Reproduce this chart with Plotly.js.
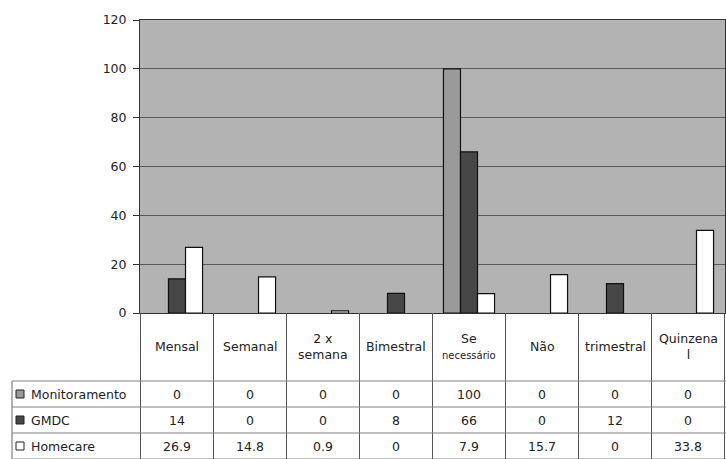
<!DOCTYPE html>
<html>
<head>
<meta charset="utf-8">
<script src="https://cdn.plot.ly/plotly-3.0.1.min.js"></script>
<style>
html,body{margin:0;padding:0;background:#fff;}
#chart{width:726px;height:459px;}
</style>
</head>
<body>
<div id="chart"></div>
<script>
// ---- data ----
const categories = ['Mensal','Semanal','2 x semana','Bimestral','Se necessário','Não','trimestral','Quinzenal'];
const headerLabels = ['Mensal','Semanal','2 x<br>semana','Bimestral','Se<br><span style="font-size:10px">necessário</span>','Não','trimestral','Quinzena<br>l'];
const seriesNames = ['Monitoramento','GMDC','Homecare'];
const monitoramento = [0,0,0,0,100,0,0,0];
const gmdc = [14,0,0,8,66,0,12,0];
const homecare = [26.9,14.8,0.9,0,7.9,15.7,0,33.8];
const yTicks = [0,20,40,60,80,100,120];

// ---- styles ----
const W = 726, H = 459;
const colors = ['#9a9a9a','#474747','#ffffff'];
const font = 'DejaVu Sans, Arial, sans-serif';
const px = x => x / W;
const py = y => 1 - y / H;

const seriesValues = [monitoramento, gmdc, homecare];

const traces = seriesValues.map((vals, s) => ({
  type: 'bar',
  name: seriesNames[s],
  x: categories,
  y: vals.map(v => (v === 0 ? null : v)),
  marker: {color: colors[s], line: {color: '#111', width: 1.2}},
  hoverinfo: 'skip'
}));

// table geometry (pixels)
const plotLeft = 140, plotRight = 725, plotTop = 20, plotBottom = 313;
const tableLeft = 12, headerBottom = 381, rowH = 26;

const shapes = [];
const annotations = [];
const n = categories.length;

// vertical lines of the table (category boundaries)
for (let i = 0; i <= n; i++) {
  shapes.push({type:'line', xref:'x', yref:'paper', x0:i-0.5, x1:i-0.5,
    y0: py(plotBottom), y1: py(headerBottom + rowH*3 + 2),
    line:{color:'#555', width:1}});
}
// left border of legend column
shapes.push({type:'line', xref:'paper', yref:'paper', x0:px(tableLeft), x1:px(tableLeft),
  y0: py(headerBottom), y1: py(headerBottom + rowH*3 + 2), line:{color:'#666', width:1}});
// horizontal row lines
for (let r = 0; r <= 3; r++) {
  const yy = headerBottom + rowH*r;
  shapes.push({type:'line', xref:'paper', yref:'paper', x0:px(tableLeft), x1:1,
    y0: py(yy), y1: py(yy), line:{color:'#808080', width:1}});
}

// header labels
categories.forEach((c, i) => {
  annotations.push({xref:'x', yref:'paper', x:c, y:py((plotBottom+headerBottom)/2 - 1),
    text: headerLabels[i], showarrow:false, xanchor:'center', yanchor:'middle',
    font:{family:font, size:12.5, color:'#222'}});
});

// rows: legend key + values
seriesNames.forEach((name, s) => {
  const yc = headerBottom + rowH*s + rowH/2;
  shapes.push({type:'rect', xref:'paper', yref:'paper',
    x0:px(16), x1:px(24), y0:py(yc+4), y1:py(yc-4),
    fillcolor: colors[s], line:{color:'#222', width:1}});
  annotations.push({xref:'paper', yref:'paper', x:px(29), y:py(yc),
    text:name, showarrow:false, xanchor:'left', yanchor:'middle',
    font:{family:font, size:12.5, color:'#222'}});
  seriesValues[s].forEach((v, i) => {
    annotations.push({xref:'x', yref:'paper', x:categories[i], y:py(yc),
      text:String(v), showarrow:false, xanchor:'center', yanchor:'middle',
      font:{family:font, size:12.5, color:'#222'}});
  });
});

const layout = {
  width: W, height: H,
  margin: {l:0, r:0, t:0, b:0, pad:0},
  paper_bgcolor: '#ffffff',
  plot_bgcolor: '#b3b3b3',
  showlegend: false,
  barmode: 'group',
  bargap: 0.3,
  bargroupgap: 0,
  xaxis: {
    domain: [px(plotLeft), px(plotRight)],
    type: 'category',
    categoryorder: 'array',
    categoryarray: categories,
    showticklabels: false,
    ticks: '',
    showgrid: false,
    showline: true, linecolor: '#333', linewidth: 1,
    mirror: true,
    zeroline: false,
    fixedrange: true
  },
  yaxis: {
    domain: [py(plotBottom), py(plotTop)],
    range: [0, 120],
    tickvals: yTicks,
    ticktext: yTicks.map(String),
    ticks: 'outside', ticklen: 6, tickcolor: '#333', tickwidth: 1,
    ticklabelstandoff: 4,
    tickfont: {family: font, size: 12.5, color: '#222'},
    showgrid: true, gridcolor: '#5a5a5a', gridwidth: 1.2,
    showline: true, linecolor: '#333', linewidth: 1,
    mirror: true,
    zeroline: false,
    fixedrange: true
  },
  shapes: shapes,
  annotations: annotations
};

Plotly.newPlot('chart', traces, layout, {staticPlot: true, displayModeBar: false});
</script>
</body>
</html>
